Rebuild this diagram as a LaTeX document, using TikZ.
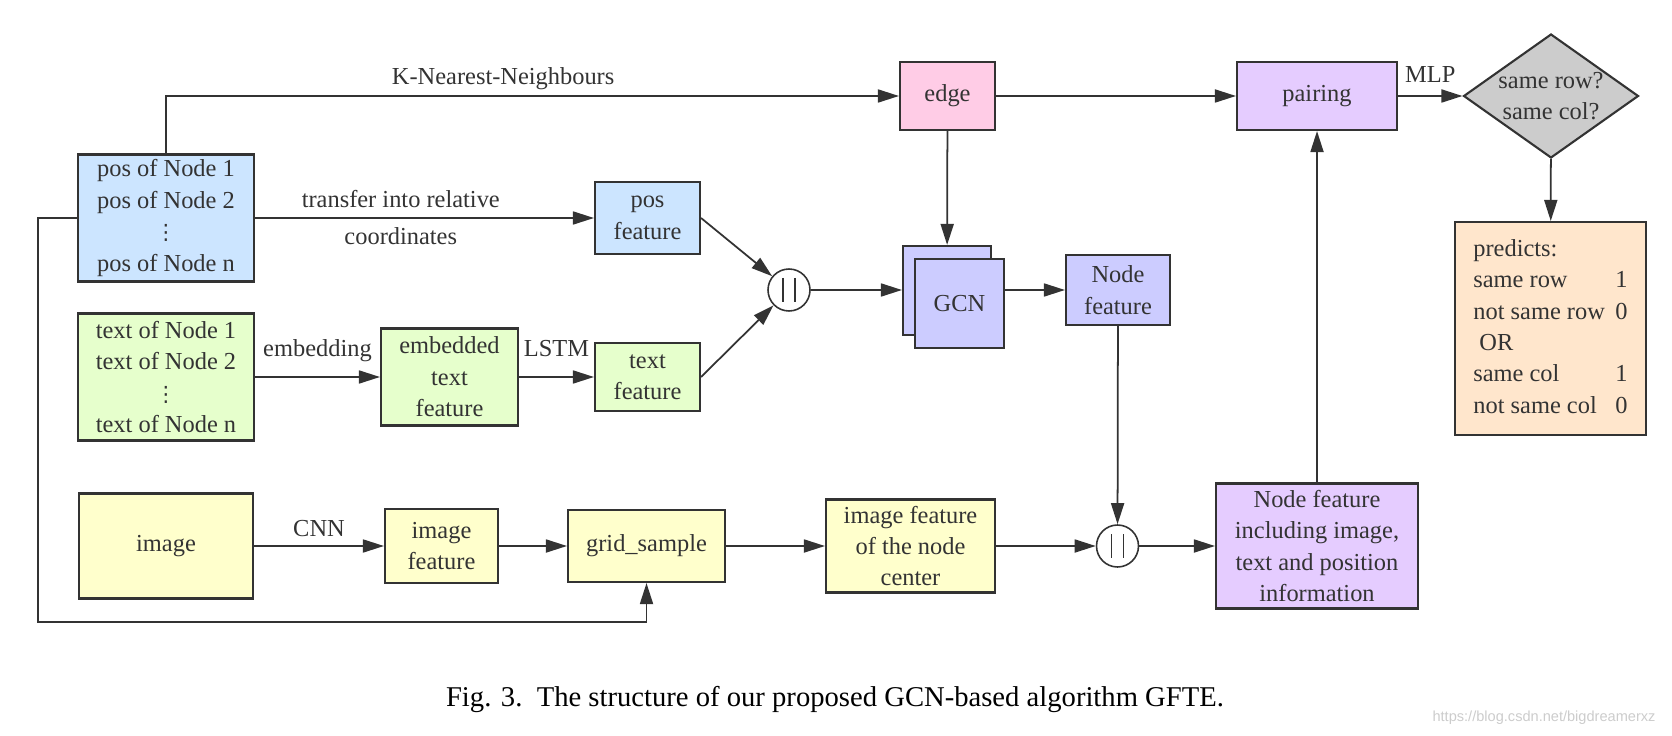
\documentclass[tikz,border=0pt]{standalone}
\usepackage{fontspec}
\setmainfont{Liberation Serif}
\setsansfont{Liberation Sans}
\newfontfamily\dotsfont{DejaVu Sans}
\usetikzlibrary{positioning, arrows.meta, calc, shapes.geometric}

\definecolor{posblue}{HTML}{CCE5FF}
\definecolor{txtgreen}{HTML}{E6FFCC}
\definecolor{imgyellow}{HTML}{FFFFCC}
\definecolor{edgepink}{HTML}{FFCCE6}
\definecolor{pairpurple}{HTML}{E5CCFF}
\definecolor{gcnblue}{HTML}{CCCCFF}
\definecolor{askgray}{HTML}{CCCCCC}
\definecolor{predpeach}{HTML}{FFE6CC}
\definecolor{inkgray}{HTML}{333333}

% one glyph of three stacked dots
\newcommand{\colldots}{{\dotsfont\fontsize{12}{12}\selectfont ⋮}}

\begin{document}
\begin{tikzpicture}[
  x=0.02cm, y=-0.02cm,
  font=\fontsize{13.9}{17.9}\selectfont,
  blk/.style={draw=inkgray, line width=1.2pt, text=inkgray, align=center, inner sep=1pt},
  posbox/.style={blk, fill=posblue},
  txtbox/.style={blk, fill=txtgreen},
  imgbox/.style={blk, fill=imgyellow},
  edgebox/.style={blk, fill=edgepink},
  pairbox/.style={blk, fill=pairpurple},
  gcnbox/.style={blk, fill=gcnblue},
  askbox/.style={blk, diamond, fill=askgray, shape aspect=1.41, inner sep=0pt},
  predbox/.style={blk, fill=predpeach, align=left},
  cat/.style={circle, draw=inkgray, line width=0.9pt, fill=white, minimum size=0.84cm, inner sep=0pt},
  arr/.style={-{Triangle[length=0.42cm, width=0.26cm]}, line width=1pt, draw=inkgray},
  ln/.style={line width=1pt, draw=inkgray},
  lbl/.style={text=inkgray, inner sep=2pt}
]
\useasboundingbox (0,0) rectangle (1672,736);

% inputs on the left
\node[posbox, minimum width=3.52cm, minimum height=2.54cm] (pos) at (166,218)
  {pos of Node 1\\pos of Node 2\\\colldots\\pos of Node n};
\node[txtbox, minimum width=3.52cm, minimum height=2.54cm] (txt) at (166,377)
  {text of Node 1\\text of Node 2\\\colldots\\text of Node n};
\node[imgbox, minimum width=3.48cm, minimum height=2.10cm] (img) at (166,546) {image};

% features
\node[posbox, minimum width=2.10cm, minimum height=1.44cm] (posf) at (647.5,218) {pos\\feature};
\node[txtbox, minimum width=2.74cm, minimum height=1.94cm] (emb) at (449.5,377) {embedded\\text\\feature};
\node[txtbox, minimum width=2.10cm, minimum height=1.36cm] (txtf) at (647.5,377) {text\\feature};
\node[imgbox, minimum width=2.26cm, minimum height=1.48cm] (imgf) at (441.5,546) {image\\feature};
\node[imgbox, minimum width=3.14cm, minimum height=1.44cm] (grid) at (646.5,546) {grid\_sample};
\node[imgbox, minimum width=3.38cm, minimum height=1.86cm] (imgc) at (910.5,546)
  {image feature\\of the node\\center};

% concatenation
\node[cat] (cat1) at (789,290) {};
\node[cat] (cat2) at (1117.5,546) {};
\foreach \c in {cat1, cat2}
  \foreach \dx in {-6, 6}
    \draw[ln] ($(\c)+(\dx,-12)$) -- ($(\c)+(\dx,12)$);

% graph part
\node[edgebox, minimum width=1.90cm, minimum height=1.36cm] (edge) at (947.5,96) {edge};
\node[gcnbox, minimum width=1.76cm, minimum height=1.78cm] (gcnb) at (947,290.5) {};
\node[gcnbox, minimum width=1.78cm, minimum height=1.78cm] (gcnf) at (959.5,303.5) {GCN};
\node[gcnbox, minimum width=2.08cm, minimum height=1.40cm] (nf) at (1118,290) {Node\\feature};
\node[pairbox, minimum width=4.04cm, minimum height=2.50cm] (full) at (1317,546)
  {Node feature\\including image,\\text and position\\information};
\node[pairbox, minimum width=3.20cm, minimum height=1.36cm] (pair) at (1317,96) {pairing};

% output
\node[askbox, minimum width=3.50cm, minimum height=2.48cm] (ask) at (1551,96) {same row?\\same col?};
\node[predbox, minimum width=3.82cm, minimum height=4.26cm] (pred) at (1550.5,328.5)
  {\begin{tabular}{@{}l@{\hspace{6pt}}l@{}}
   predicts: & \\ same row & 1\\ not same row & 0\\ \ OR & \\ same col & 1\\ not same col & 0
   \end{tabular}};

% connectors, top row
\draw[arr] (pos.north) |- (edge.west) node[lbl, pos=0.73, above=1pt] {K-Nearest-Neighbours};
\draw[arr] (edge) -- (pair);
\draw[arr] (pair) -- (ask) node[lbl, midway, above=5pt] {MLP};
\draw[arr] (ask) -- (pred);
\draw[arr] (edge) -- (gcnb);

% pos and text rows
\draw[arr] (pos) -- (posf)
  node[lbl, pos=0.43, above=3.5pt] {transfer into relative}
  node[lbl, pos=0.43, below=3pt] {coordinates};
\draw[arr] (txt) -- (emb) node[lbl, midway, above=6pt] {embedding};
\draw[arr] (emb) -- (txtf) node[lbl, midway, above=9pt] {LSTM};
\draw[arr] (posf.east) -- (cat1);
\draw[arr] (txtf.east) -- (cat1);
\draw[arr] (cat1) -- (cat1 -| gcnb.west);
\draw[arr] (nf.west -| gcnf.east) -- (nf.west);
\draw[arr] (nf) -- (cat2);

% image row
\draw[arr] (img) -- (imgf) node[lbl, midway, above=2.5pt] {CNN};
\draw[arr] (imgf) -- (grid);
\draw[arr] (grid) -- (imgc);
\draw[arr] (imgc) -- (cat2);
\draw[arr] (cat2) -- (full);
\draw[arr] (full) -- (pair);

% positions fed to grid_sample
\coordinate (fb) at (38,622);
\draw[arr] (pos.west) -| (fb) -| (grid.south);

% caption
\node[font=\fontsize{16.3}{19}\selectfont] (cap) at (835,700)
  {Fig. 3.\ \ The structure of our proposed GCN-based algorithm GFTE.};
\node[font=\sffamily\fontsize{8.3}{10}\selectfont, text=gray!40] (wm) at (1544,718)
  {https://blog.csdn.net/bigdreamerxz};

\end{tikzpicture}
\end{document}
